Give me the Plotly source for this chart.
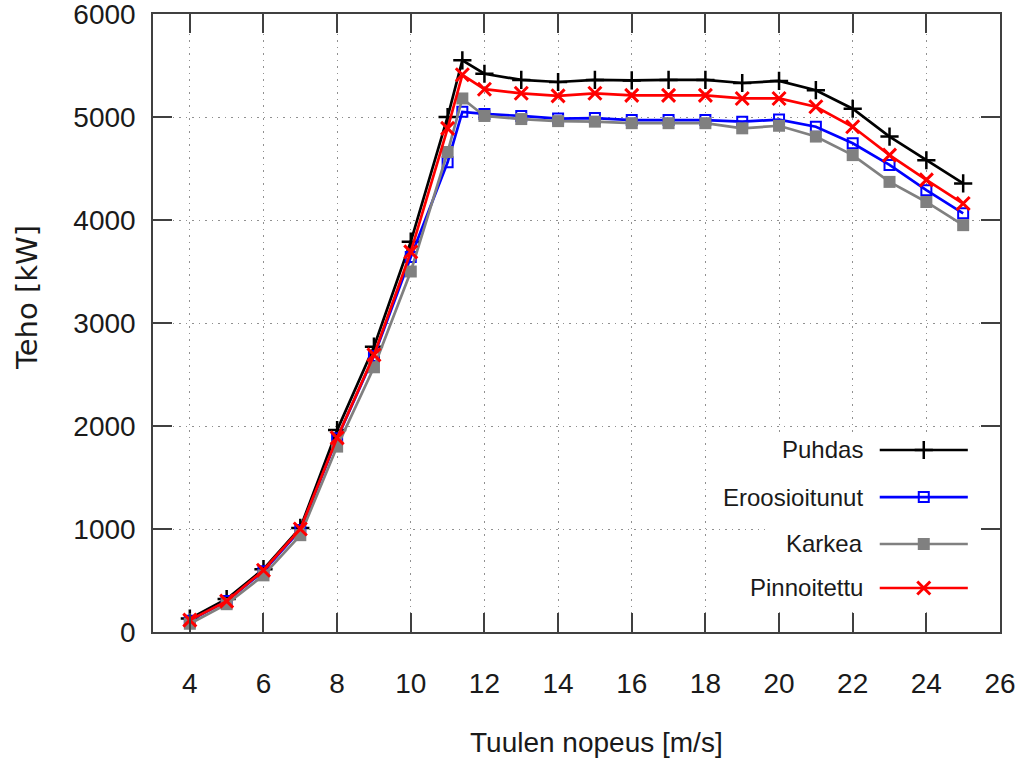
import plotly.graph_objects as go

# ---- data ----
wind_speed = [4, 5, 6, 7, 8, 9, 10, 11, 11.4, 12, 13, 14, 15, 16, 17, 18, 19, 20, 21, 22, 23, 24, 25]
puhdas = [130, 320, 610, 1010, 1960, 2770, 3790, 5000, 5550, 5420, 5360, 5340, 5360, 5355, 5360, 5360, 5330, 5350, 5260, 5080, 4810, 4580, 4355]
eroosioitunut = [110, 300, 590, 990, 1880, 2680, 3640, 4560, 5050, 5030, 5010, 4985, 4990, 4970, 4970, 4970, 4955, 4975, 4905, 4745, 4535, 4290, 4065]
karkea = [80, 270, 550, 940, 1800, 2570, 3500, 4660, 5180, 5010, 4980, 4960, 4955, 4940, 4940, 4940, 4890, 4915, 4810, 4630, 4370, 4175, 3950]
pinnoitettu = [115, 300, 600, 1000, 1885, 2690, 3690, 4890, 5410, 5270, 5230, 5205, 5230, 5210, 5210, 5210, 5180, 5180, 5100, 4905, 4630, 4390, 4160]

series_names = ["Puhdas", "Eroosioitunut", "Karkea", "Pinnoitettu"]
series_values = [puhdas, eroosioitunut, karkea, pinnoitettu]
x_ticks = [4, 6, 8, 10, 12, 14, 16, 18, 20, 22, 24, 26]
y_ticks = [0, 1000, 2000, 3000, 4000, 5000, 6000]
x_title = "Tuulen nopeus [m/s]"
y_title = "Teho [kW]"

# ---- styles ----
colors = ["#000000", "#0000ff", "#808080", "#ff0000"]
markers = [
    dict(symbol="cross-thin-open", size=13, line=dict(width=2.5, color="#000000")),
    dict(symbol="square-open", size=10, line=dict(width=2, color="#0000ff")),
    dict(symbol="square", size=12, line=dict(width=0)),
    dict(symbol="x-thin-open", size=13, line=dict(width=3, color="#ff0000")),
]
legend_rows = [0.2945, 0.2184, 0.1424, 0.0712]
FONT = "Liberation Sans, Arial, sans-serif"
AX = "#404040"
GRID_DASH = "1.5px,5px"

fig = go.Figure()
for name, vals, col, mk in zip(series_names, series_values, colors, markers):
    fig.add_trace(go.Scatter(
        x=wind_speed, y=vals, name=name, mode="lines+markers",
        line=dict(color=col, width=2.7), marker=dict(color=col, **mk),
        showlegend=False,
    ))

# custom legend (text left, sample right) drawn on an overlay axis with a white box
fig.add_trace(go.Scatter(
    x=[0.7225, 0.9906, 0.9906, 0.7225, 0.7225], y=[0.0324, 0.0324, 0.3236, 0.3236, 0.0324],
    mode="lines", fill="toself", fillcolor="white", line=dict(width=0, color="white"),
    xaxis="x2", yaxis="y2", showlegend=False, hoverinfo="skip",
))
for name, col, mk, ry in zip(series_names, colors, markers, legend_rows):
    fig.add_trace(go.Scatter(
        x=[0.858, 0.962], y=[ry, ry], mode="lines", xaxis="x2", yaxis="y2",
        line=dict(color=col, width=2.7), showlegend=False, hoverinfo="skip",
    ))
    fig.add_trace(go.Scatter(
        x=[0.910], y=[ry], mode="markers", xaxis="x2", yaxis="y2",
        marker=dict(color=col, **mk), showlegend=False, hoverinfo="skip",
    ))
    fig.add_annotation(
        x=0.841, y=ry, xref="paper", yref="paper", text=name,
        showarrow=False, xanchor="right", yanchor="middle",
        font=dict(family=FONT, size=24, color="#1a1a1a"),
    )

fig.add_annotation(x=0.524, y=-0.1796, xref="paper", yref="paper", text=x_title,
                   showarrow=False, xanchor="center", yanchor="middle",
                   font=dict(family=FONT, size=28, color="#1a1a1a"))
fig.add_annotation(x=-0.1488, y=0.542, xref="paper", yref="paper", text=y_title,
                   showarrow=False, xanchor="center", yanchor="middle", textangle=-90,
                   font=dict(family="DejaVu Sans, sans-serif", size=29, color="#1a1a1a"))

fig.update_layout(
    width=1030, height=760,
    margin=dict(l=153, r=30, t=14, b=128, autoexpand=False),
    paper_bgcolor="white", plot_bgcolor="white",
    font=dict(family=FONT, size=28, color="#1a1a1a"),
    showlegend=False,
    xaxis=dict(
        range=[3, 26], tickvals=x_ticks, ticktext=[str(v) for v in x_ticks],
        showgrid=True, gridcolor="#909090", gridwidth=1, griddash=GRID_DASH,
        showline=True, linecolor=AX, linewidth=1.5, mirror="ticks",
        ticks="inside", ticklen=19, tickwidth=1.5, tickcolor=AX,
        ticklabelstandoff=26, zeroline=False, automargin=False,
        tickfont=dict(family=FONT, size=28, color="#1a1a1a"),
    ),
    yaxis=dict(
        range=[0, 6000], tickvals=y_ticks, ticktext=[str(v) for v in y_ticks],
        showgrid=True, gridcolor="#909090", gridwidth=1, griddash=GRID_DASH,
        showline=True, linecolor=AX, linewidth=1.5, mirror="ticks",
        ticks="inside", ticklen=19, tickwidth=1.5, tickcolor=AX,
        ticklabelstandoff=10, ticklabeloverflow="allow",
        zeroline=False, automargin=False,
        tickfont=dict(family=FONT, size=28, color="#1a1a1a"),
    ),
    xaxis2=dict(overlaying="x", range=[0, 1], visible=False, fixedrange=True),
    yaxis2=dict(overlaying="y", range=[0, 1], visible=False, fixedrange=True),
)

fig.write_html("out.html")
